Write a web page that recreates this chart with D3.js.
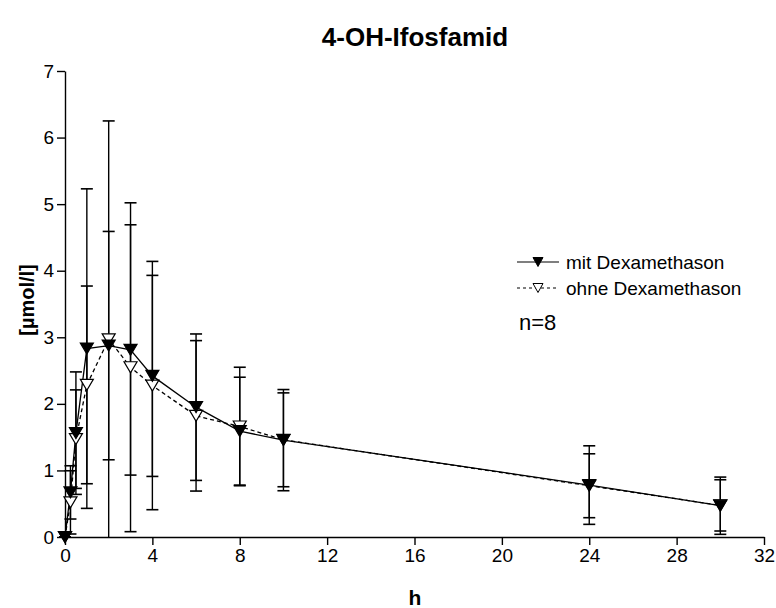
<!DOCTYPE html>
<html>
<head>
<meta charset="utf-8">
<script src="https://cdn.jsdelivr.net/npm/d3@7"></script>
<style>
  body { margin: 0; background: #fff; }
  svg { display: block; font-family: "Liberation Sans", Arial, sans-serif; }
</style>
</head>
<body>
<svg id="chart" width="776" height="608"></svg>
<script>
// sampling times (h)
const times = [0, 0.25, 0.5, 1, 2, 3, 4, 6, 8, 10, 24, 30];
// mit Dexamethason: mean and SD
const mitMean = [0, 0.67, 1.56, 2.83, 2.875, 2.81, 2.42, 1.95, 1.59, 1.455, 0.78, 0.47];
const mitSD   = [0, 0.40, 0.92, 2.40, 1.715, 1.88, 1.51, 1.10, 0.81, 0.76, 0.59, 0.43];
// ohne Dexamethason: mean and SD
const ohneMean = [0, 0.52, 1.47, 2.285, 2.97, 2.55, 2.275, 1.82, 1.66, 1.46, 0.77, 0.475];
const ohneSD   = [0, 0.475, 0.74, 1.485, 3.28, 2.47, 1.865, 1.13, 0.89, 0.705, 0.48, 0.385];

const xTicks = [0, 4, 8, 12, 16, 20, 24, 28, 32];
const yTicks = [0, 1, 2, 3, 4, 5, 6, 7];

const svg = d3.select("#chart");
const x = d3.scaleLinear().domain([0, 32]).range([65, 764]);
const y = d3.scaleLinear().domain([0, 7]).range([537, 71]);

// title
svg.append("text").attr("x", 415).attr("y", 46).attr("text-anchor", "middle")
  .style("font-size", "26px").style("font-weight", "bold").text("4-OH-Ifosfamid");

// axes
const xAxis = d3.axisBottom(x).tickValues(xTicks).tickFormat(d3.format("d"))
  .tickSize(8).tickSizeOuter(0).tickPadding(4);
const yAxis = d3.axisLeft(y).tickValues(yTicks).tickFormat(d3.format("d"))
  .tickSize(8).tickSizeOuter(0).tickPadding(3);
const gx = svg.append("g").attr("transform", "translate(0,537)").call(xAxis);
const gy = svg.append("g").attr("transform", "translate(65,0)").call(yAxis);
[gx, gy].forEach(g => {
  g.selectAll("path, line").attr("stroke", "#000").attr("stroke-width", 1.4);
  g.selectAll("text").style("font-size", "19px").attr("fill", "#000").style("font-family", "Liberation Sans, Arial, sans-serif");
});

svg.append("text").attr("x", 415).attr("y", 605).attr("text-anchor", "middle")
  .style("font-size", "21px").style("font-weight", "bold").text("h");
svg.append("text").attr("transform", "translate(34,300) rotate(-90)").attr("text-anchor", "middle")
  .style("font-size", "20px").style("font-weight", "bold").text("[µmol/l]");

function tri(w, h) {
  return `M${-w / 2},${-h / 2}L${w / 2},${-h / 2}L0,${h / 2}Z`;
}

const series = [
  { mean: ohneMean, sd: ohneSD, fill: "#fff", dash: "4,3" },
  { mean: mitMean, sd: mitSD, fill: "#000", dash: null }
];

const plot = svg.append("g");
const cap = 6;

// error bars
series.forEach(s => {
  times.forEach((t, i) => {
    const hi = s.mean[i] + s.sd[i];
    const lo = Math.max(0, s.mean[i] - s.sd[i]);
    const cx = x(t);
    plot.append("line").attr("x1", cx).attr("x2", cx).attr("y1", y(lo)).attr("y2", y(hi))
      .attr("stroke", "#000").attr("stroke-width", 1.4);
    plot.append("line").attr("x1", cx - cap).attr("x2", cx + cap).attr("y1", y(hi)).attr("y2", y(hi))
      .attr("stroke", "#000").attr("stroke-width", 1.6);
    if (s.mean[i] - s.sd[i] >= 0)
      plot.append("line").attr("x1", cx - cap).attr("x2", cx + cap).attr("y1", y(lo)).attr("y2", y(lo))
        .attr("stroke", "#000").attr("stroke-width", 1.6);
  });
});

// lines
const line = d3.line().x((d, i) => x(times[i])).y(d => y(d));
series.forEach(s => {
  plot.append("path").attr("d", line(s.mean)).attr("fill", "none").attr("stroke", "#000")
    .attr("stroke-width", 1.3).attr("stroke-dasharray", s.dash);
});

// markers
series.forEach(s => {
  plot.selectAll(null).data(s.mean).join("path")
    .attr("d", tri(13, 11))
    .attr("transform", (d, i) => `translate(${x(times[i])},${y(d)})`)
    .attr("fill", s.fill).attr("stroke", "#000").attr("stroke-width", 1.2);
});

// legend
const legendItems = [
  { label: "mit Dexamethason", fill: "#000", dash: null, y: 262 },
  { label: "ohne Dexamethason", fill: "#fff", dash: "3,3", y: 288 }
];
const lg = svg.append("g");
legendItems.forEach(d => {
  lg.append("line").attr("x1", 517).attr("x2", 559).attr("y1", d.y).attr("y2", d.y)
    .attr("stroke", "#000").attr("stroke-width", 1.2).attr("stroke-dasharray", d.dash);
  lg.append("path").attr("d", tri(10, 9)).attr("transform", `translate(538,${d.y})`)
    .attr("fill", d.fill).attr("stroke", "#000").attr("stroke-width", 1);
  lg.append("text").attr("x", 566).attr("y", d.y + 6.5).style("font-size", "19px").text(d.label);
});
lg.append("text").attr("x", 519).attr("y", 330).style("font-size", "22px").text("n=8");
</script>
</body>
</html>
